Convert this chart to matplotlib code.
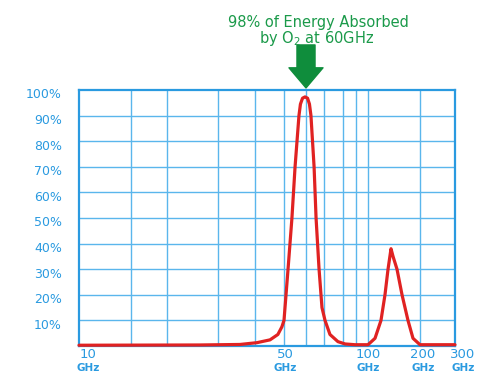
import numpy as np
import matplotlib
matplotlib.use("Agg")
import matplotlib.pyplot as plt
from matplotlib.transforms import offset_copy

# absorption curve (GHz, % of energy absorbed)
freq_ghz = [10, 28.1, 35.6, 40.6, 44.9, 47.7, 49.2, 50, 51.7, 53.4, 54.8, 56.6,
            57.3, 58.3, 59.5, 60.8, 61.8, 62.6, 64.3, 65.4, 67.1, 68.8, 70.5,
            73.0, 77.2, 81.5, 89.2, 100, 109.8, 118.9, 125.4, 130.6, 135.9,
            139.6, 147.2, 157.4, 170.4, 182.2, 200, 300]
absorbed = [0.3, 0.4, 0.6, 1.3, 2.4, 4.5, 7.5, 10, 30, 50, 70, 90,
            94.5, 96.8, 97.3, 96.8, 94.5, 90, 70, 50, 30, 15, 10,
            4.5, 1.7, 0.8, 0.5, 0.5, 3, 10, 20, 30, 38,
            35, 30, 20, 10, 3, 0.5, 0.5]

x_labels = ["10", "50", "100", "200", "300"]
x_label_freq = [10, 50, 100, 200, 300]
y_ticks = [10, 20, 30, 40, 50, 60, 70, 80, 90, 100]
y_labels = [f"{v}%" for v in y_ticks]

# the printed frequency axis is hand drawn, not a true log scale:
# grid frequencies and where they sit across the plot
grid_freq = [10, 20, 25, 30, 40, 50, 60, 70, 80, 90, 100, 200, 300]
grid_pos = [0, 52, 88, 139, 176, 205, 227, 245, 264, 277, 289, 341, 376]

BLUE = "#2a9ae0"
GRID = "#5ab6ec"
RED = "#e02222"
GREEN = "#1b9a4a"


def fwd(f):
    f = np.clip(np.asarray(f, dtype=float), 1e-6, None)
    return np.interp(np.log10(f), np.log10(grid_freq), grid_pos)


def inv(p):
    return 10 ** np.interp(np.asarray(p, dtype=float), grid_pos, np.log10(grid_freq))


fig = plt.figure(figsize=(4.88, 3.89), dpi=100)
ax = fig.add_axes([79 / 488, 43 / 389, 376 / 488, 256 / 389])
ax.set_xscale("function", functions=(fwd, inv))
ax.set_xlim(10, 300)
ax.set_ylim(0, 100)

ax.set_xticks(grid_freq[1:-1])
ax.set_xticks([], minor=True)
ax.set_yticks(y_ticks[:-1])
ax.tick_params(length=0, labelbottom=False, labelleft=False)
ax.grid(True, color=GRID, lw=1.0)
for sp in ax.spines.values():
    sp.set_color(BLUE)
    sp.set_linewidth(1.6)

ax.plot(freq_ghz, absorbed, color=RED, lw=2.3, clip_on=False, zorder=3,
        solid_capstyle="round", solid_joinstyle="round")

# tick labels drawn by hand to mimic the original offsets
x_shift = [9, 1, 0, 3, 8]
xt = ax.get_xaxis_transform()
for f, lab, dx in zip(x_label_freq, x_labels, x_shift):
    tr = offset_copy(xt, fig=fig, x=dx, y=0, units="dots")
    ax.text(f, -0.035, lab, transform=tr, ha="center", va="center",
            color=BLUE, fontsize=9.5)
    ax.text(f, -0.084, "GHz", transform=tr, ha="center", va="center",
            color=BLUE, fontsize=7.5, fontweight="bold")

yt = offset_copy(ax.get_yaxis_transform(), fig=fig, x=-17, y=-5, units="dots")
for v, lab in zip(y_ticks, y_labels):
    ax.text(0, v, lab, transform=yt, ha="right", va="center",
            color=BLUE, fontsize=9)

# arrow + note
ax.annotate("", xy=(60, 100.8), xytext=(60, 117.6), annotation_clip=False,
            arrowprops=dict(arrowstyle="simple,head_length=1.45,head_width=2.45,tail_width=1.3",
                            color="#0f8d3c", mutation_scale=10, shrinkA=0, shrinkB=0))
fig.text(318 / 488, 1 - 22 / 389, "98% of Energy Absorbed", ha="center", va="center",
         color=GREEN, fontsize=10.5)
fig.text(317 / 488, 1 - 39 / 389, "by O$_2$ at 60GHz", ha="center", va="center",
         color=GREEN, fontsize=10.5)

fig.savefig("out.png", dpi=100)
